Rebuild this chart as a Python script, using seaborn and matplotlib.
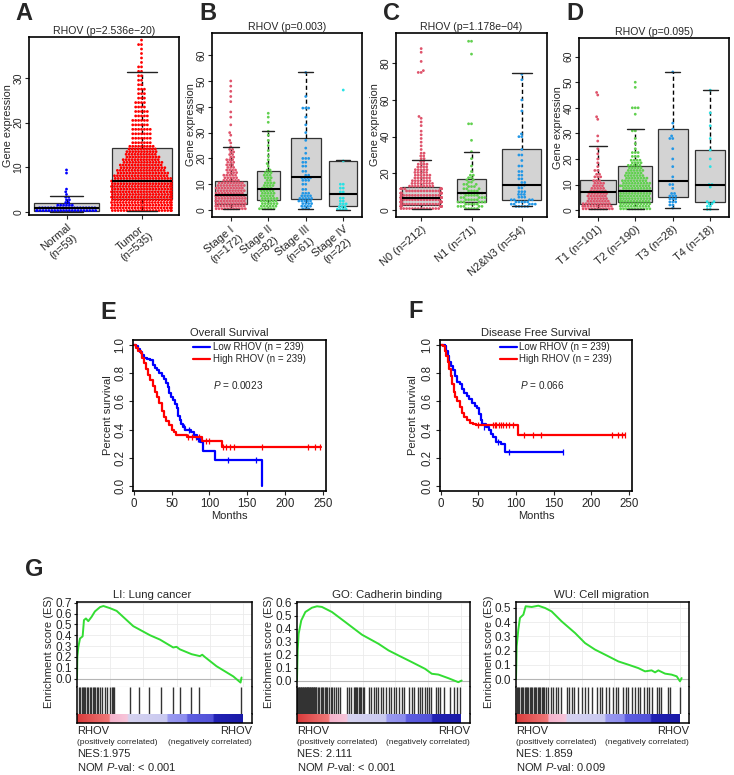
import numpy as np
import pandas as pd
import matplotlib
matplotlib.use("Agg")
import matplotlib.pyplot as plt
from matplotlib.colors import LinearSegmentedColormap
import seaborn as sns

sns.set_style("ticks")
plt.rcParams["font.family"] = ["Liberation Sans", "DejaVu Sans"]
plt.rcParams["mathtext.fontset"] = "custom"
plt.rcParams["mathtext.rm"] = "Liberation Sans"
plt.rcParams["mathtext.it"] = "Liberation Sans:italic"

# ---------------- expression data (value levels + how many dots sit on each) ----------------
a_names = ["Normal", "Tumor"]
a_labels = ["Normal\n(n=59)", "Tumor\n(n=535)"]
normal_lv = [0.3, 0.9, 1.5, 2.1, 2.7, 3.3, 3.9, 4.5, 5.1, 8.7, 9.4]
normal_ct = [22, 20, 6, 2, 2, 2, 1, 1, 1, 1, 1]
tumor_lv = [0.3, 0.9, 1.5, 2.1, 2.7, 3.3, 3.9, 4.5, 5.1, 5.7, 6.3, 6.9,
            7.5, 8.1, 8.7, 9.3, 9.9, 10.5, 11.1, 11.7, 12.3, 12.9, 13.5, 14.1, 14.7,
            15.5, 16.5, 17.5, 18.5, 19.5, 20.5, 21.5, 22.5, 23.5, 24.5, 25.5, 26.5,
            27.5, 28.5, 29.5, 30.5, 31.5, 32.5, 33.5, 34.5, 35.5, 36.5, 37.5, 38.5, 41, 45]
tumor_ct = [22, 22, 22, 22, 22, 22, 22, 22, 22, 22, 22, 22,
            20, 19, 18, 17, 16, 15, 14, 13, 12, 11, 11, 10, 9,
            7, 7, 7, 7, 6, 6, 5, 5, 4, 4, 3, 3,
            3, 2, 2, 2, 2, 2, 1, 1, 1, 1, 2, 1, 1, 1]

b_names = ["Stage I", "Stage II", "Stage III", "Stage IV"]
b_labels = ["Stage I\n(n=172)", "Stage II\n(n=82)", "Stage III\n(n=61)", "Stage IV\n(n=22)"]
s1_lv = [0.5, 1.5, 2.5, 3.5, 4.5, 5.5, 6.5, 7.5, 8.5, 9.5, 10.5, 11.5, 12.5, 13.5, 14.5,
         15.5, 16.5, 17.5, 18.5, 19.5, 20.5, 21.5, 22.5, 23.5, 24.5,
         26, 27, 29, 30, 33, 36, 38, 42, 44, 46, 48, 50]
s1_ct = [11, 11, 11, 11, 11, 11, 10, 10, 10, 10, 9, 6, 5, 5, 4,
         4, 3, 3, 3, 3, 2, 2, 2, 2, 1,
         1, 1, 1, 1, 1, 1, 1, 1, 1, 1, 1, 1]
s2_lv = [0.5, 1.5, 2.5, 3.5, 4.5, 5.5, 6.5, 7.5, 8.5, 9.5, 10.5, 11.5, 12.5, 13.5, 14.5,
         15.5, 17, 18, 19.5, 21, 23, 25, 27, 29, 30.5, 34, 36, 37.5]
s2_ct = [6, 6, 6, 6, 6, 5, 5, 5, 4, 4, 4, 2, 3, 3, 3,
         2, 1, 1, 1, 1, 1, 1, 1, 1, 1, 1, 1, 1]
s3_lv = [0.5, 1.5, 2.5, 3.5, 4.5, 5.5, 6.5, 8, 10, 11.5, 12.5, 13.5, 15, 17, 18.5,
         20, 22, 24, 27, 30, 33, 36, 39.5, 44, 53.3]
s3_ct = [3, 4, 4, 5, 5, 4, 3, 2, 2, 3, 4, 2, 2, 2, 2,
         3, 1, 1, 1, 1, 1, 1, 3, 1, 1]
s4_lv = [0.3, 1.3, 2.4, 3.5, 4.6, 7, 8.5, 10, 19, 46.5]
s4_ct = [4, 3, 3, 2, 2, 2, 2, 2, 1, 1]

c_names = ["N0", "N1", "N2&N3"]
c_labels = ["N0 (n=212)", "N1 (n=71)", "N2&N3 (n=54)"]
n0_lv = [0.8, 2.0, 3.2, 4.4, 5.6, 6.8, 8.0, 9.2, 10.4, 11.6,
         13, 14.5, 16, 17.5, 19, 20.5, 22, 23.5, 25, 26.5, 28,
         29.5, 31, 33, 35, 37, 39, 41, 43, 46, 48, 50, 51, 75, 76, 81, 86, 88]
n0_ct = [14, 14, 14, 14, 14, 14, 14, 13, 12, 11,
         9, 8, 7, 6, 6, 5, 5, 4, 4, 2, 2,
         2, 2, 1, 1, 1, 1, 1, 1, 1, 1, 1, 1, 2, 1, 1, 1, 1]
n1_lv = [0.8, 2.0, 3.2, 4.4, 5.6, 6.8, 8.0, 9.2, 10.4, 11.6, 12.8, 14, 15.2, 16.4, 17.6,
         19, 21, 24, 28, 31.8, 38, 47, 85, 92]
n1_ct = [5, 5, 5, 6, 5, 5, 5, 4, 4, 3, 3, 3, 2, 2, 2,
         2, 1, 1, 1, 1, 1, 2, 1, 2]
n23_lv = [2.0, 3.2, 4.4, 5.6, 7, 8.5, 10, 12, 13.5, 15, 17, 19, 21, 24, 27, 30, 33,
          40, 41.5, 54, 60, 71, 74]
n23_ct = [5, 5, 5, 4, 3, 3, 3, 2, 3, 2, 2, 2, 2, 2, 1, 2, 1, 2, 1, 1, 1, 1, 1]

d_names = ["T1", "T2", "T3", "T4"]
d_labels = ["T1 (n=101)", "T2 (n=190)", "T3 (n=28)", "T4 (n=18)"]
t1_lv = [0.5, 1.5, 2.5, 3.5, 4.5, 5.5, 6.5, 7.5, 8.5, 9.5, 10.5, 11.5, 13, 14, 15.5,
         17, 18.5, 20, 22, 24, 27, 29, 35.5, 36.5, 45, 46]
t1_ct = [11, 11, 10, 8, 7, 7, 7, 6, 5, 4, 4, 3, 3, 2, 2,
         1, 1, 1, 1, 1, 1, 1, 1, 1, 1, 1]
t2_lv = [0.5, 1.5, 2.5, 3.5, 4.5, 5.5, 6.5, 7.5, 8.5, 9.5, 10.5, 11.5, 12.5, 13.5, 14.5,
         15.5, 16.5, 17.5, 18.5, 19.5, 21, 22.5, 24, 26, 28, 31, 37.5, 40, 48, 50]
t2_ct = [11, 11, 11, 11, 11, 11, 11, 11, 10, 11, 10, 9, 8, 7, 6,
         6, 5, 5, 4, 4, 3, 3, 1, 1, 1, 2, 1, 3, 1, 1]
t3_lv = [0.8, 2, 3.2, 4.4, 5.5, 6.5, 8.5, 10, 11.5, 13, 17, 20, 24, 28, 29, 31.7, 34, 54]
t3_ct = [1, 2, 3, 3, 3, 2, 1, 2, 1, 1, 1, 1, 1, 2, 1, 1, 1, 1]
t4_lv = [0.3, 1.5, 2.5, 3.3, 9, 10, 17, 20, 23.5, 28, 33, 38, 46.9]
t4_ct = [2, 2, 2, 2, 1, 2, 1, 1, 1, 1, 1, 1, 1]

# box summaries (q1, median, q3, whisker low, whisker high) and box widths
a_q1, a_med, a_q3, a_lo, a_hi = [0.3, 2.8], [0.9, 6.9], [1.9, 14.4], [0.0, 0.2], [3.6, 31.3]
a_w = [0.87, 0.8]
b_q1, b_med, b_q3 = [2.5, 3.9, 4.1, 1.5], [5.8, 8.1, 12.9, 6.3], [11.2, 15.0, 28.1, 19.1]
b_lo, b_hi = [0.3, 0.3, 0.4, 0.2], [24.5, 30.7, 53.3, 19.3]
b_w = [0.84, 0.62, 0.8, 0.76]
c_q1, c_med, c_q3 = [2.8, 4.5, 5.2], [6.3, 9.5, 13.8], [12.6, 17.1, 33.3]
c_lo, c_hi = [0.5, 0.5, 2.0], [27.0, 31.8, 74.6]
c_w = [0.76, 0.57, 0.77]
d_q1, d_med, d_q3 = [2.5, 3.3, 5.2, 3.3], [6.9, 7.6, 11.5, 10.0], [11.9, 17.2, 31.7, 23.5]
d_lo, d_hi = [0.5, 0.5, 0.8, 0.3], [25.0, 31.9, 54.1, 46.9]
d_w = [0.95, 0.9, 0.8, 0.8]

stage_colors = ["#DF536B", "#61D04F", "#2297E6", "#28E2E5"]

# ---------------- survival data ----------------
e_low_t = [0, 3, 5, 8, 11, 14, 18, 22, 25, 28, 31, 34, 37, 40, 43, 45, 47, 49, 52, 55,
           57, 59, 61, 63, 65, 68, 76, 80, 83, 88, 92, 108, 169]
e_low_s = [1.0, 0.99, 0.97, 0.95, 0.93, 0.91, 0.90, 0.89, 0.86, 0.84, 0.82, 0.80, 0.78, 0.76,
           0.73, 0.70, 0.66, 0.63, 0.61, 0.585, 0.55, 0.50, 0.47, 0.44, 0.42, 0.40, 0.385,
           0.36, 0.33, 0.31, 0.25, 0.185, 0.0]
e_high_t = [0, 3, 6, 9, 11, 13, 16, 19, 22, 25, 28, 31, 34, 37, 40, 43, 46, 50, 53, 56,
            62, 70, 80, 90, 116, 247]
e_high_s = [1.0, 0.98, 0.96, 0.94, 0.91, 0.87, 0.83, 0.79, 0.75, 0.71, 0.67, 0.63, 0.59,
            0.53, 0.49, 0.46, 0.43, 0.40, 0.38, 0.365, 0.36, 0.35, 0.345, 0.32, 0.277, 0.277]
e_low_cens_t = [66, 73, 85, 125, 162]
e_low_cens_s = [0.42, 0.40, 0.33, 0.185, 0.185]
e_high_cens_t = [72, 77, 82, 86, 95, 100, 118, 122, 127, 133, 170, 230, 240, 246]
e_high_cens_s = [0.35, 0.35, 0.345, 0.345, 0.32, 0.32, 0.277, 0.277, 0.277, 0.277,
                 0.277, 0.277, 0.277, 0.277]

f_low_t = [0, 5, 7, 9, 11, 14, 16, 19, 21, 25, 28, 31, 35, 38, 42, 45, 48, 51, 53, 55,
           60, 64, 67, 70, 74, 80, 85, 162]
f_low_s = [1.0, 0.99, 0.96, 0.92, 0.88, 0.85, 0.82, 0.78, 0.74, 0.72, 0.69, 0.66, 0.64,
           0.62, 0.59, 0.57, 0.55, 0.51, 0.47, 0.44, 0.42, 0.40, 0.37, 0.35, 0.31, 0.30,
           0.24, 0.24]
f_high_t = [0, 3, 5, 7, 9, 11, 13, 15, 17, 19, 22, 25, 28, 31, 35, 39, 43, 47, 103, 245]
f_high_s = [1.0, 0.99, 0.96, 0.92, 0.88, 0.83, 0.78, 0.72, 0.67, 0.63, 0.60, 0.56, 0.52,
            0.49, 0.47, 0.45, 0.44, 0.43, 0.365, 0.365]
f_low_cens_t = [58, 76, 90, 162]
f_low_cens_s = [0.42, 0.31, 0.24, 0.24]
f_high_cens_t = [50, 70, 72, 74, 77, 80, 83, 87, 91, 96, 110, 123, 133, 227, 236, 241, 245]
f_high_cens_s = [0.43] * 10 + [0.365] * 7

# ---------------- GSEA data (position in ranked list, running ES, hit positions) ----------------
g1_x = [0, 0.002, 0.008, 0.018, 0.034, 0.042, 0.054, 0.068, 0.088, 0.108, 0.139, 0.159,
        0.199, 0.239, 0.339, 0.44, 0.5, 0.58, 0.60, 0.62, 0.691, 0.741, 0.755, 0.77, 0.841,
        0.942, 0.986, 0.992]
g1_es = [0, 0.2, 0.29, 0.37, 0.39, 0.54, 0.555, 0.53, 0.57, 0.62, 0.66, 0.67,
         0.65, 0.625, 0.484, 0.40, 0.36, 0.287, 0.293, 0.27, 0.225, 0.207, 0.22, 0.2, 0.114,
         0.02, -0.037, 0.01]
g1_hits = [0.012, 0.020, 0.028, 0.036, 0.044, 0.050, 0.058, 0.066, 0.078, 0.086, 0.094,
           0.102, 0.110, 0.118, 0.129, 0.139, 0.149, 0.169, 0.183, 0.199, 0.209, 0.219,
           0.225, 0.319, 0.376, 0.436, 0.504, 0.580, 0.620, 0.685, 0.737, 0.986]

g2_x = [0, 0.004, 0.010, 0.026, 0.051, 0.091, 0.122, 0.152, 0.213, 0.294, 0.396, 0.497,
        0.558, 0.619, 0.700, 0.781, 0.822, 0.862, 0.923, 0.984, 1.004]
g2_es = [0, 0.232, 0.36, 0.463, 0.528, 0.561, 0.572, 0.567, 0.528, 0.451, 0.353, 0.283,
         0.232, 0.193, 0.142, 0.09, 0.052, 0.046, 0.018, -0.013, 0.0]
g2_hits = [0.002, 0.006, 0.010, 0.014, 0.018, 0.022, 0.026, 0.030, 0.034, 0.038, 0.042,
           0.046, 0.050, 0.054, 0.058, 0.062, 0.066, 0.070, 0.074, 0.078, 0.082, 0.086,
           0.090, 0.094, 0.098, 0.102, 0.106, 0.110, 0.114, 0.118,
           0.128, 0.136, 0.145, 0.152, 0.160, 0.168, 0.176, 0.185, 0.193,
           0.205, 0.215, 0.228, 0.240, 0.252, 0.262, 0.305, 0.315, 0.328,
           0.345, 0.352, 0.360, 0.368, 0.376, 0.385, 0.393, 0.400, 0.410,
           0.438, 0.452, 0.468, 0.480, 0.495, 0.510, 0.525, 0.540,
           0.560, 0.575, 0.590, 0.605, 0.625, 0.640, 0.655, 0.682, 0.700, 0.715, 0.735,
           0.752, 0.765, 0.778, 0.790, 0.805, 0.818, 0.845, 0.860, 0.875, 0.895,
           0.935, 0.955, 0.975, 0.995]

g3_x = [0, 0.004, 0.014, 0.024, 0.045, 0.059, 0.096, 0.136, 0.177, 0.217, 0.278, 0.360,
        0.421, 0.482, 0.563, 0.624, 0.685, 0.746, 0.787, 0.827, 0.848, 0.868, 0.909, 0.949,
        0.980, 1.0, 1.01]
g3_es = [0, 0.23, 0.347, 0.43, 0.453, 0.512, 0.507, 0.516, 0.5, 0.476, 0.406, 0.324,
         0.253, 0.207, 0.16, 0.124, 0.101, 0.077, 0.054, 0.061, 0.047, 0.061, 0.038, 0.031,
         0.019, -0.016, 0.007]
g3_hits = [0.004, 0.012, 0.020, 0.028, 0.036, 0.044, 0.052, 0.060, 0.068, 0.076, 0.084,
           0.092, 0.100, 0.108, 0.116, 0.124, 0.132, 0.140, 0.148, 0.156, 0.164, 0.172,
           0.180, 0.197, 0.211, 0.228, 0.242, 0.258, 0.274, 0.309, 0.323, 0.339, 0.356,
           0.380, 0.400, 0.421, 0.441, 0.465, 0.492, 0.512, 0.526, 0.547, 0.567, 0.593,
           0.608, 0.624, 0.654, 0.669, 0.685, 0.709, 0.726, 0.742, 0.756, 0.783, 0.797,
           0.811, 0.827, 0.858, 0.872, 0.884, 0.925, 0.939, 1.0]

bar_pos = [0.0, 0.19, 0.20, 0.30, 0.31, 0.54, 0.55, 0.66, 0.67, 0.82, 0.83, 1.0]
bar_col = ["#D93B3B", "#F07878", "#F5B3CC", "#F7C5DA", "#D6D3F0", "#C9C9F0", "#9A9AF0",
           "#8C8CEE", "#5E5EE0", "#5252D8", "#2222B4", "#1A1AA8"]

# ---------------- figure ----------------
W, H = 734, 775
fig = plt.figure(figsize=(W / 100, H / 100), dpi=100)


def box_ax(x0, y0, x1, y1):
    return fig.add_axes([x0 / W, 1 - y1 / H, (x1 - x0) / W, (y1 - y0) / H])


def ftext(x, y, s, **kw):
    fig.text(x / W, 1 - y / H, s, **kw)


def frame(ax, lw=1.1):
    for s in ax.spines.values():
        s.set_visible(True)
        s.set_linewidth(lw)
        s.set_color("black")


def expr_panel(ax, names, labels, levels, counts, colors, q1, med, q3, lo, hi, widths,
               title, ylim, yticks):
    rows = []
    for n, lv, ct in zip(names, levels, counts):
        for v, c in zip(lv, ct):
            rows += [(n, v)] * c
    df = pd.DataFrame(rows, columns=["group", "value"])
    sns.swarmplot(data=df, x="group", y="value", hue="group", order=names,
                  hue_order=names, palette=colors, size=2.0, linewidth=0, legend=False,
                  warn_thresh=1, zorder=2, ax=ax)
    stats = [dict(q1=a, med=b, q3=c, whislo=d, whishi=e, fliers=[])
             for a, b, c, d, e in zip(q1, med, q3, lo, hi)]
    ax.bxp(stats, positions=range(len(names)), widths=widths,
           capwidths=[w * 0.5 for w in widths], patch_artist=True, showfliers=False,
           manage_ticks=False,
           boxprops=dict(facecolor="#D3D3D3", edgecolor="#333333", lw=0.9, zorder=1),
           medianprops=dict(color="black", lw=1.5, zorder=3),
           whiskerprops=dict(color="black", ls=(0, (3, 2)), lw=1.0, zorder=1.5),
           capprops=dict(color="#222222", lw=1.0, zorder=3))
    ax.set_xlim(-0.5, len(names) - 0.5)
    ax.set_ylim(*ylim)
    ax.set_yticks(yticks)
    ax.set_yticklabels([str(t) for t in yticks], rotation=90, va="center", fontsize=7.5)
    ax.set_xticks(range(len(names)))
    ax.set_xticklabels(labels, rotation=40, ha="right", va="top", rotation_mode="anchor",
                       fontsize=8, multialignment="center")
    ax.set_xlabel("")
    ax.set_ylabel("Gene expression", fontsize=7.8)
    ax.yaxis.set_label_coords(-0.108, 0.5)
    ax.set_title(title, fontsize=7.6, pad=2)
    ax.tick_params(axis="x", length=3, width=0.8, pad=2)
    ax.tick_params(axis="y", length=3, width=0.8, pad=1)
    frame(ax, 1.2)


ax_a = box_ax(29, 37, 179, 215)
expr_panel(ax_a, a_names, a_labels, [normal_lv, tumor_lv], [normal_ct, tumor_ct],
           ["#0000FF", "#FF0000"], a_q1, a_med, a_q3, a_lo, a_hi, a_w,
           "RHOV (p=2.536e\u221220)", (-0.7, 39.2), [0, 10, 20, 30])

ax_b = box_ax(212, 33, 362, 217)
expr_panel(ax_b, b_names, b_labels, [s1_lv, s2_lv, s3_lv, s4_lv],
           [s1_ct, s2_ct, s3_ct, s4_ct], stage_colors, b_q1, b_med, b_q3, b_lo, b_hi, b_w,
           "RHOV (p=0.003)", (-2.7, 68.6), [0, 10, 20, 30, 40, 50, 60])

ax_c = box_ax(396, 33, 547, 217)
expr_panel(ax_c, c_names, c_labels, [n0_lv, n1_lv, n23_lv], [n0_ct, n1_ct, n23_ct],
           stage_colors[:3], c_q1, c_med, c_q3, c_lo, c_hi, c_w,
           "RHOV (p=1.178e\u221204)", (-3.8, 96.5), [0, 20, 40, 60, 80])

ax_d = box_ax(579, 38, 729, 217)
expr_panel(ax_d, d_names, d_labels, [t1_lv, t2_lv, t3_lv, t4_lv],
           [t1_ct, t2_ct, t3_ct, t4_ct], stage_colors, d_q1, d_med, d_q3, d_lo, d_hi, d_w,
           "RHOV (p=0.095)", (-2.7, 67.3), [0, 10, 20, 30, 40, 50, 60])


def km_panel(ax, title, lo_t, lo_s, hi_t, hi_s, lo_ct, lo_cs, hi_ct, hi_cs, ptxt, ylab_x):
    sns.lineplot(x=lo_t, y=lo_s, drawstyle="steps-post", estimator=None, color="#0000FF",
                 lw=1.6, label="Low RHOV (n = 239)", ax=ax)
    sns.lineplot(x=hi_t, y=hi_s, drawstyle="steps-post", estimator=None, color="#FF0000",
                 lw=1.6, label="High RHOV (n = 239)", ax=ax)
    sns.scatterplot(x=lo_ct, y=lo_cs, marker="|", s=22, color="#0000FF", linewidth=0.9,
                    legend=False, ax=ax)
    sns.scatterplot(x=hi_ct, y=hi_cs, marker="|", s=22, color="#FF0000", linewidth=0.9,
                    legend=False, ax=ax)
    ax.set_xlim(-1, 254)
    ax.set_ylim(-0.035, 1.035)
    ax.set_xticks([0, 50, 100, 150, 200, 250])
    ax.set_yticks([0, 0.2, 0.4, 0.6, 0.8, 1.0])
    ax.set_yticklabels(["0.0", "0.2", "0.4", "0.6", "0.8", "1.0"], rotation=90,
                       va="center")
    ax.tick_params(labelsize=8.3, length=3, width=0.8, pad=2)
    ax.set_xlabel("Months", fontsize=8, labelpad=1)
    ax.set_ylabel("Percent survival", fontsize=8)
    ax.yaxis.set_label_coords(ylab_x, 0.5)
    ax.set_title(title, fontsize=8, pad=3)
    ax.legend(loc="upper left", bbox_to_anchor=(0.31, 0.985), frameon=False, fontsize=7,
              handlelength=1.8, handletextpad=0.25, labelspacing=0.2, borderpad=0,
              borderaxespad=0)
    ax.text(0.415, 0.70, ptxt, transform=ax.transAxes, fontsize=7.2, va="center")
    frame(ax, 1.2)


ax_e = box_ax(133, 340, 326, 491)
km_panel(ax_e, "Overall Survival", e_low_t, e_low_s, e_high_t, e_high_s,
         e_low_cens_t, e_low_cens_s, e_high_cens_t, e_high_cens_s, "$P$ = 0.0023", -0.104)
ax_f = box_ax(440, 340, 632, 491)
km_panel(ax_f, "Disease Free Survival", f_low_t, f_low_s, f_high_t, f_high_s,
         f_low_cens_t, f_low_cens_s, f_high_cens_t, f_high_cens_s, "$P$ = 0.066", -0.115)

bar_cmap = LinearSegmentedColormap.from_list("gsea", list(zip(bar_pos, bar_col)))


def gsea_panel(x0, x1, gx, ges, hits, ylim, yticks, title, title_x, nes, pval):
    ax_es = box_ax(x0, 602, x1, 687)
    ax_hit = box_ax(x0, 687, x1, 714)
    ax_bar = box_ax(x0, 714, x1, 723)
    ax_es.grid(True, color="#EBEBEB", lw=0.6)
    ax_es.axhline(0, color="#B5B5B5", lw=0.8)
    sns.lineplot(x=gx, y=ges, estimator=None, sort=False, color="#33DD33", lw=1.4,
                 ax=ax_es)
    ax_es.set_xlim(0, 1.055)
    ax_es.set_ylim(*ylim)
    ax_es.set_xticks([0.2, 0.4, 0.6, 0.8, 1.0])
    ax_es.tick_params(axis="x", length=0, labelbottom=False)
    ax_es.set_yticks(yticks)
    ax_es.set_yticklabels([f"{t:.1f}" for t in yticks], fontsize=8.5)
    ax_es.tick_params(axis="y", length=2.5, width=0.8, pad=1)
    ax_es.set_ylabel("Enrichment score (ES)", fontsize=8)
    ax_es.yaxis.set_label_coords(-22.5 / (x1 - x0), 0.42)
    ax_es.set_xlabel("")
    frame(ax_es, 1.1)
    ax_es.spines["bottom"].set_color("#C8C8C8")
    ax_es.spines["bottom"].set_linewidth(0.8)

    sns.rugplot(x=hits, height=1, color="#333333", lw=0.65, ax=ax_hit)
    ax_hit.set_xlim(0, 1.055)
    ax_hit.set_ylim(0, 1)
    ax_hit.set_xticks([])
    ax_hit.set_yticks([])
    frame(ax_hit, 1.1)
    ax_hit.spines["top"].set_visible(False)
    ax_hit.spines["bottom"].set_visible(False)

    ax_bar.imshow(np.linspace(0, 1, 300)[None, :], cmap=bar_cmap, aspect="auto",
                  extent=(0, 1.0, 0, 1))
    ax_bar.set_xlim(0, 1.055)
    ax_bar.set_ylim(0, 1)
    ax_bar.set_xticks([])
    ax_bar.set_yticks([])
    frame(ax_bar, 1.1)
    ax_bar.spines["top"].set_visible(False)

    ftext(title_x, 595, title, fontsize=8.2, ha="center", va="center")
    ftext(x0, 731, "RHOV", fontsize=8, va="center")
    ftext(x1, 731, "RHOV", fontsize=8, va="center", ha="right")
    ftext(x0, 742, "(positively correlated)", fontsize=6, va="center")
    ftext(x1, 742, "(negatively correlated)", fontsize=6, va="center", ha="right")
    ftext(x0, 754, nes, fontsize=8, va="center")
    ftext(x0, 767, pval, fontsize=8, va="center")


gsea_panel(77, 252, g1_x, g1_es, g1_hits, (-0.078, 0.707),
           [0.0, 0.1, 0.2, 0.3, 0.4, 0.5, 0.6, 0.7], "LI: Lung cancer", 152,
           "NES:1.975", "NOM $P$-val: < 0.001")
gsea_panel(297, 470, g2_x, g2_es, g2_hits, (-0.05, 0.605),
           [0.0, 0.1, 0.2, 0.3, 0.4, 0.5, 0.6], "GO: Cadherin binding", 387,
           "NES: 2.111", "NOM $P$-val: < 0.001")
gsea_panel(516, 689, g3_x, g3_es, g3_hits, (-0.056, 0.542),
           [0.0, 0.1, 0.2, 0.3, 0.4, 0.5], "WU: Cell migration", 602,
           "NES: 1.859", "NOM $P$-val: 0.009")

# panel letters
for letter, (lx, ly) in zip("ABCDEFG", [(24, 14), (208, 14), (392, 14), (575, 14),
                                        (108, 313), (416, 312), (34, 569)]):
    ftext(lx, ly, letter, fontsize=17, fontweight="bold", ha="center", va="center")

fig.savefig("out.png", dpi=100, facecolor="white")
